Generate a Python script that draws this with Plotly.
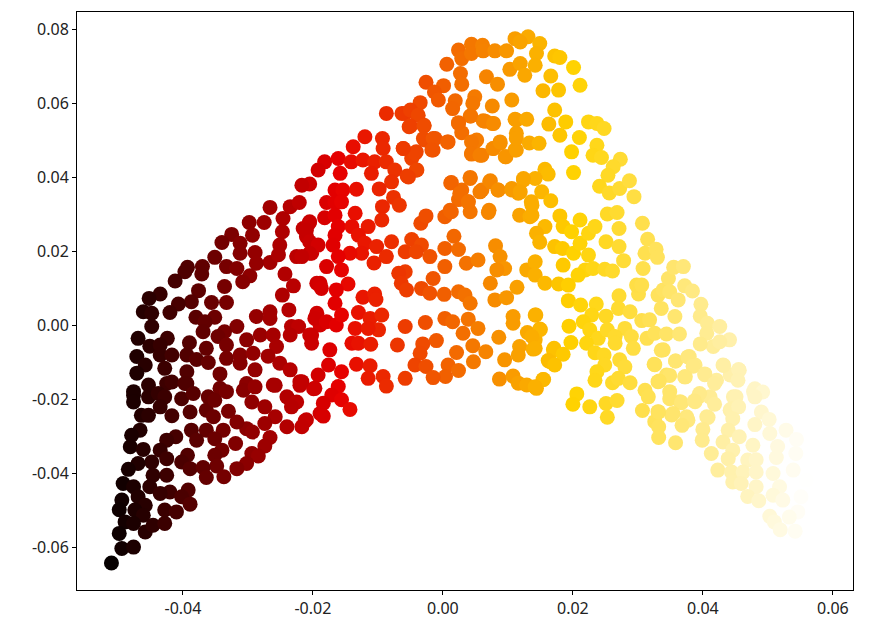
import plotly.graph_objects as go

# Values in thousandths of an axis unit, by region
dark_upper = [(-26.6,31.8),(-23.5,32.0),(-22.1,33.1),(-24.6,28.8),(-29.8,27.7),(-27.5,27.7),(-24.7,25.2),(-29.3,24.3),(-25.1,21.6),(-32.5,24.5),(-34.0,22.3),(-31.2,22.1),(-28.9,19.6),(-35.1,18.3),(-31.2,19.4),(-26.6,16.9),(-28.7,16.7),(-25.3,19.0),(-33.3,15.8),(-31.7,15.3),(-29.7,13.3),(-30.8,11.7),(-39.3,15.6),(-37.0,15.8),(-39.7,14.4),(-37.1,13.8),(-41.2,11.9),(-33.6,10.4),(-37.6,9.3),(-43.5,8.4),(-45.2,7.2),(-38.7,6.3),(-40.7,5.7),(-42.0,3.4),(-46.1,3.6),(-44.8,3.2),(-35.6,6.1),(-33.3,6.1),(-38.0,2.1),(-35.1,2.1),(-36.6,0.9),(-44.8,-0.4),(-36.9,-1.8),(-31.7,-0.4),(-33.6,-1.8),(-34.6,-3.1),(-46.9,-3.6),(-42.4,-3.6),(-45.1,-5.7),(-43.5,-5.4),(-39.0,-4.8),(-36.4,-6.3),(-33.3,-5.4),(-47.1,-8.5),(-43.5,-8.1),(-41.7,-8.1),(-39.4,-8.1),(-37.9,-9.3),(-36.1,-10.1),(-33.3,-9.0),(-31.2,-8.1),(-29.2,-7.6),(-42.8,-11.7),(-45.8,-10.8),(-47.1,-13.0),(-45.3,-16.2),(-39.4,-12.6),(-34.3,-13.2),(-31.2,-10.3),(-28.9,-12.1),(-30.2,-4.0),(-28.1,-2.7),(-26.1,-2.7),(-25.6,-5.8),(-26.9,-8.4),(-25.1,-10.3),(-23.5,-12.1),(-28.7,2.3),(-26.6,3.6),(-26.6,1.8),(-24.3,13.8),(-23.0,10.6),(-24.7,8.1),(-23.7,4.1),(-22.5,18.5),(-20.2,19.4),(-21.0,23.9),(-21.5,26.1),(-20.6,27.5),(-23.3,-0.4),(-22.2,-0.4),(-23.5,-2.7),(-19.4,3.2),(-20.5,-2.7),(-18.9,0.0),(-19.4,11.3),(-22.0,-15.3),(-26.1,-16.2),(-30.2,-15.8),(-34.3,-17.1),(-39.4,-15.8),(-42.5,-15.8),(-47.6,-18.0)]

dark_lower = [(-47.6,-19.0),(-47.6,-20.8),(-45.3,-19.4),(-43.8,-18.5),(-42.8,-19.4),(-43.5,-22.1),(-46.4,-24.4),(-45.3,-24.4),(-41.7,-24.5),(-40.2,-19.9),(-41.7,-15.4),(-39.7,-15.8),(-38.4,-18.5),(-38.9,-23.5),(-36.1,-19.4),(-36.4,-23.0),(-35.1,-20.3),(-35.3,-24.8),(-33.3,-18.0),(-33.0,-23.3),(-29.4,-20.8),(-30.7,-17.6),(-28.9,-16.7),(-27.4,-22.1),(-25.8,-16.3),(-24.0,-19.4),(-22.5,-20.8),(-23.3,-22.1),(-22.0,-16.3),(-19.9,-17.2),(-18.9,-23.9),(-25.8,-24.8),(-27.4,-26.6),(-24.0,-27.5),(-21.2,-25.9),(-30.2,-28.0),(-31.7,-26.2),(-29.3,-28.9),(-26.6,-30.4),(-27.4,-32.7),(-29.4,-34.7),(-28.4,-35.4),(-30.2,-37.4),(-31.7,-38.8),(-33.8,-28.4),(-36.4,-28.4),(-38.7,-28.4),(-35.1,-30.7),(-37.9,-31.1),(-31.9,-32.0),(-34.0,-33.8),(-35.1,-35.2),(-39.3,-35.2),(-40.2,-37.0),(-34.8,-38.1),(-38.9,-38.8),(-36.9,-38.5),(-36.4,-41.2),(-33.7,-41.0),(-41.1,-30.2),(-42.5,-31.1),(-46.6,-28.4),(-47.9,-29.8),(-48.1,-32.9),(-46.1,-33.6),(-43.5,-33.8),(-42.5,-36.1),(-44.8,-37.0),(-46.9,-37.4),(-48.4,-39.0),(-42.5,-40.6),(-44.6,-40.6),(-49.2,-42.8),(-47.6,-43.7),(-45.1,-43.7),(-49.4,-47.3),(-49.8,-49.9),(-46.9,-46.4),(-45.8,-48.7),(-47.4,-50.0),(-46.1,-51.4),(-48.9,-53.2),(-47.6,-53.6),(-49.8,-56.3),(-45.8,-55.9),(-44.6,-54.1),(-42.8,-53.6),(-42.8,-50.0),(-41.0,-50.5),(-42.0,-45.1),(-43.5,-45.5),(-39.2,-44.6),(-40.2,-46.4),(-38.9,-48.4),(-49.4,-60.4),(-47.6,-60.0),(-51.0,-64.3)]

red_upper = [(-8.7,57.2),(-5.8,57.2),(-4.1,57.2),(-2.9,54.0),(-5.2,53.6),(-12.0,50.9),(-13.8,48.2),(-9.3,50.4),(-9.2,47.7),(-6.1,47.7),(-2.8,50.0),(-1.2,50.4),(-1.5,47.3),(-4.1,46.8),(-4.8,45.0),(0.7,49.5),(2.4,54.5),(2.9,52.0),(4.3,56.5),(6.2,55.2),(7.6,54.5),(11.3,55.4),(11.3,51.8),(4.9,49.5),(4.4,46.4),(6.0,45.9),(7.7,47.7),(8.8,49.1),(9.7,45.5),(11.1,47.3),(-18.2,44.1),(-19.2,41.9),(-16.1,45.0),(-14.1,44.1),(-12.3,44.6),(-10.5,44.1),(-8.7,44.1),(-7.4,41.9),(-4.1,41.9),(-5.5,40.3),(-15.8,41.0),(-11.0,41.0),(-7.9,38.7),(-20.5,38.1),(-21.7,37.8),(-16.6,36.5),(-15.4,36.5),(-13.3,36.7),(-9.8,36.8),(-17.9,33.1),(-16.6,33.1),(-15.6,33.3),(-7.6,34.5),(-6.7,32.4),(-9.3,32.0),(-18.2,29.0),(-16.6,29.7),(-13.5,30.2),(-9.4,28.4),(-20.5,27.9),(-21.0,25.7),(-16.1,26.6),(-14.0,26.6),(-11.5,26.6),(-13.0,24.3),(-16.6,24.3),(-16.9,21.6),(-20.5,22.5),(-19.2,21.6),(-20.5,19.4),(-21.7,18.5),(-12.0,22.1),(-12.5,19.4),(-14.3,19.4),(-16.1,18.5),(-17.9,15.8),(-15.6,14.9),(-10.2,21.2),(-10.6,16.8),(-7.9,22.5),(-8.7,18.5),(-5.8,19.8),(-4.8,23.1),(-3.3,21.6),(-4.1,19.8),(-2.0,18.5),(-18.9,11.3),(-18.7,9.9),(-14.6,11.1),(-16.4,9.5),(-16.6,5.9),(-12.3,7.5),(-10.5,8.4),(-10.3,6.9),(-5.8,14.4),(-6.8,14.0),(-6.4,11.3),(-5.6,9.5),(-3.3,9.9),(-2.0,8.6),(0.2,8.3),(-1.5,12.6),(0.3,15.8),(2.4,9.0),(3.4,8.1),(4.2,5.9),(7.3,11.3),(8.0,6.8),(9.8,7.4),(11.4,10.2),(3.6,16.7),(5.4,17.6),(8.1,21.4),(8.8,18.5),(9.5,15.3),(8.3,14.9),(0.3,20.7),(2.4,20.4),(1.7,24.0),(-3.4,27.5),(-2.6,29.5),(0.3,29.3),(1.3,30.6),(7.0,30.4),(4.2,30.6),(3.9,33.3),(2.4,33.9),(2.9,36.5),(1.3,38.5),(4.2,39.6),(6.0,36.5),(7.3,39.0),(8.5,36.5),(10.6,36.9),(11.6,35.6),(12.4,39.2),(11.8,29.7),(13.4,29.3),(12.9,14.9)]

orange_lower = [(-13.0,3.4),(-11.2,1.8),(-9.4,2.7),(-13.5,-0.9),(-9.9,-1.3),(-11.5,-0.9),(-14.0,-4.9),(-13.0,-4.9),(-11.1,-5.2),(-5.8,-0.4),(-7.0,-5.4),(-2.7,0.7),(0.3,1.8),(1.5,0.9),(3.9,1.6),(5.4,-0.9),(3.1,-2.2),(-1.0,-4.2),(-3.1,-5.1),(-3.5,-7.6),(2.1,-7.4),(4.6,-5.6),(6.6,-7.2),(4.7,-9.9),(-4.3,-10.8),(-2.6,-11.2),(0.8,-10.8),(2.4,-12.3),(0.4,-13.9),(-1.5,-14.2),(-5.8,-14.4),(-13.3,-10.6),(-11.2,-11.0),(-11.5,-14.4),(-9.2,-13.9),(-8.7,-16.5),(8.6,-3.3),(9.5,-9.4),(8.7,-14.6),(10.8,2.3),(10.8,0.5),(14.2,2.7),(14.9,-1.1),(13.0,-2.0),(14.2,-4.0),(11.8,-5.8),(13.9,-6.5),(11.6,-8.1),(10.8,-13.8),(11.6,-15.7),(12.9,-16.2),(14.4,-17.1),(15.4,-14.7),(17.0,-6.7),(16.5,-9.9),(-17.4,-6.7),(-20.2,-2.7),(-19.7,1.8),(-17.9,0.9),(-16.4,0.0),(-15.6,2.7),(-20.2,-4.9),(-17.6,-10.8),(-15.6,-12.6),(-19.2,-13.5),(-16.1,-16.6),(-19.7,-17.1),(-21.7,-15.3),(-17.1,-18.9),(-15.6,-20.2),(-14.3,-22.8),(-18.4,-21.1),(-18.4,-24.6),(-21.0,-25.6),(-21.7,-27.5)]

peak = [(0.6,70.5),(2.4,74.3),(2.9,72.0),(4.4,75.9),(4.4,73.4),(6.1,75.6),(6.2,74.1),(8.0,74.1),(9.8,74.1),(11.1,77.4),(13.1,77.9),(11.9,76.5),(14.9,76.1),(14.4,73.4),(14.2,70.2),(17.2,72.7),(18.0,72.3),(20.1,69.6),(21.1,64.8),(10.3,69.1),(11.9,70.7),(12.6,67.5),(6.7,67.1),(8.4,65.1),(2.7,68.0),(2.9,65.1),(-2.6,65.6),(0.1,64.7),(-1.3,63.0),(-0.7,60.8),(-3.5,60.1),(1.9,60.6),(1.5,58.5),(4.9,61.7),(4.6,59.9),(7.6,59.2),(10.6,60.8),(16.6,67.3),(15.4,63.3),(17.8,63.5),(17.2,58.1),(4.2,56.5),(2.4,54.7),(6.5,55.1),(7.8,54.5),(11.1,55.6),(12.9,55.6),(16.3,54.3),(18.9,54.9),(18.0,51.3),(22.4,54.9),(23.7,54.5),(24.8,53.1),(21.0,50.7),(23.7,48.6),(19.8,46.8),(23.1,45.9),(24.4,45.3),(27.3,44.8),(26.2,42.8),(25.4,40.5),(20.1,41.2),(24.1,37.5),(25.6,35.7),(27.2,36.9),(28.7,39.0),(29.4,34.7),(-6.3,57.2),(-5.0,58.1),(-3.8,56.7),(-5.0,53.8),(-2.9,53.8),(-3.0,50.4),(-1.5,50.4),(-1.7,47.3),(0.8,49.5),(-4.3,46.4),(-6.1,47.7),(-4.0,41.9),(-5.3,40.0),(5.2,50.0),(4.4,49.5),(4.4,46.2),(5.7,45.9),(7.8,47.7),(8.8,49.5),(9.6,45.5),(11.3,47.3),(11.3,50.4),(13.3,49.2),(14.8,49.1),(15.7,42.1),(16.2,40.8),(14.2,39.6),(12.4,39.6),(7.2,38.7),(4.2,39.9),(1.2,38.4),(5.7,36.0),(8.5,36.5),(10.6,36.5),(11.9,36.0),(15.2,36.0),(16.6,33.6),(13.6,33.3),(2.6,35.6),(3.9,33.3),(1.1,31.0),(7.1,31.0)]

yellow_mid = [(13.7,32.4),(13.7,29.7),(18.0,29.5),(18.5,26.6),(19.8,25.2),(21.1,28.4),(15.7,26.6),(14.4,24.8),(14.9,22.4),(17.2,21.2),(18.4,20.7),(20.1,19.4),(21.1,22.1),(22.4,24.8),(23.4,26.6),(25.3,30.0),(26.8,30.4),(27.1,26.1),(25.1,22.5),(27.1,21.2),(27.8,17.4),(30.7,27.5),(31.5,23.2),(31.1,19.4),(32.8,20.5),(33.0,18.3),(30.8,15.3),(18.5,16.2),(22.4,18.9),(21.9,14.9),(20.8,13.5),(23.1,15.3),(24.9,15.1),(26.1,14.6),(14.2,17.1),(14.2,13.5),(15.7,11.3),(17.8,11.1),(19.3,10.8),(19.3,6.6),(21.2,5.4),(23.6,5.7),(22.9,2.7),(25.1,2.4),(21.6,0.9),(14.3,2.7),(19.4,-0.3),(15.0,-1.2),(19.7,-4.7),(22.6,-1.3),(23.9,-3.6),(22.1,-4.9),(13.7,-3.1),(14.2,-6.3),(17.1,-6.3),(18.5,-7.9),(16.2,-9.6),(17.2,-10.8),(23.4,-7.5),(24.8,-8.1),(27.1,7.9),(27.0,4.5),(28.8,3.6),(30.1,8.4),(29.8,10.8),(30.6,10.8),(30.6,1.2),(31.8,1.4),(25.3,-1.3),(28.0,-0.9),(29.0,-3.1),(26.5,-3.1),(26.5,-4.9),(29.3,-6.3),(31.4,-3.6),(32.6,-2.2),(34.4,-2.4),(36.4,-2.4),(35.7,2.3),(33.9,-6.7),(33.6,4.5),(33.1,8.1),(33.9,9.5),(34.7,12.6),(35.5,15.6),(37.0,15.8),(34.9,9.0),(36.2,6.8),(37.2,10.6),(38.4,9.2),(39.7,5.6),(39.6,2.4),(40.7,0.5),(40.6,-2.2),(42.6,-0.4),(44.1,-4.0),(41.6,-5.8),(39.6,-5.1),(42.6,-4.5),(32.5,-10.6),(35.8,-9.7),(37.9,-8.5),(37.2,-14.0),(38.8,-10.8),(43.1,-10.8),(45.6,-12.2),(40.3,-13.2),(42.1,-14.9),(44.2,-13.5),(34.4,-13.5),(33.1,-15.3),(31.1,-17.6),(31.6,-19.4),(34.9,-18.0),(36.5,-20.7),(39.3,-19.4),(38.8,-20.7),(41.1,-19.4),(47.8,-18.0),(44.7,-19.4),(30.7,-23.1),(33.1,-23.4),(32.6,-26.1),(35.2,-24.3),(37.5,-24.8),(40.6,-24.8),(44.2,-23.0),(24.9,-10.8),(27.2,-9.4),(28.0,-11.3),(23.7,-12.6),(23.4,-14.9),(26.1,-15.6),(27.0,-14.4),(28.8,-15.6),(20.6,-18.6),(20.0,-21.4),(22.6,-22.1),(25.1,-21.2),(26.8,-20.4),(25.3,-24.9),(15.5,-14.7),(14.2,-16.7)]

pale_tail = [(33.6,-6.8),(32.6,-10.7),(35.8,-9.7),(37.7,-8.6),(38.5,-11.1),(37.3,-14.0),(34.9,-13.6),(33.3,-15.1),(34.9,-19.9),(36.7,-21.0),(35.4,-23.9),(37.7,-25.7),(36.8,-27.1),(33.2,-23.5),(33.2,-27.5),(33.2,-30.4),(35.8,-31.8),(40.3,-13.4),(39.5,-18.5),(38.7,-20.5),(41.8,-21.4),(40.8,-25.0),(40.0,-28.2),(39.9,-31.1),(41.3,-34.7),(42.3,-39.2),(43.2,-10.9),(41.8,-15.8),(45.5,-12.0),(45.4,-14.9),(48.0,-17.2),(49.2,-18.1),(48.0,-19.4),(45.1,-19.4),(44.4,-22.6),(45.5,-22.1),(44.6,-25.3),(49.0,-23.5),(48.0,-26.9),(50.2,-25.5),(50.3,-29.3),(52.8,-28.4),(54.4,-30.9),(51.5,-32.8),(54.3,-34.7),(51.3,-35.8),(56.7,-37.9),(53.9,-39.2),(43.9,-28.4),(45.6,-30.2),(43.1,-31.6),(47.7,-32.5),(44.6,-33.8),(46.9,-36.5),(48.2,-36.4),(43.9,-36.1),(44.4,-39.7),(46.2,-39.7),(48.2,-39.7),(50.8,-40.1),(44.6,-42.4),(45.9,-42.8),(48.2,-43.7),(46.9,-46.3),(48.6,-47.5),(51.8,-43.7),(50.8,-46.0),(52.3,-47.3),(55.1,-46.4),(54.6,-50.5),(50.3,-51.7),(51.0,-53.2),(51.9,-55.3),(54.2,-55.7),(53.3,-51.9),(55.9,-41.9)]

x_ticks = [-0.04, -0.02, 0.00, 0.02, 0.04, 0.06]
y_ticks = [-0.06, -0.04, -0.02, 0.00, 0.02, 0.04, 0.06, 0.08]

points = dark_upper + dark_lower + red_upper + orange_lower + peak + yellow_mid + pale_tail
xs = [p[0] / 1000 for p in points]
ys = [p[1] / 1000 for p in points]

fig = go.Figure(go.Scatter(
    x=xs, y=ys, mode="markers",
    marker=dict(size=15, color=xs, colorscale="Hot", cmin=-0.052, cmax=0.056,
                line=dict(width=0), opacity=1),
    showlegend=False,
))
axis = dict(showgrid=False, zeroline=False, showline=True, linecolor="black", linewidth=1,
            mirror=True, ticks="outside", ticklen=4, tickcolor="black",
            tickfont=dict(family="Noto Sans", size=16, color="#222222"))
fig.update_xaxes(range=[-0.0563, 0.0631], tickvals=x_ticks,
                 ticktext=[f"{v:.2f}".replace("-0.00", "0.00") for v in x_ticks], **axis)
fig.update_yaxes(range=[-0.0716, 0.0846], tickvals=y_ticks,
                 ticktext=[f"{v:.2f}" for v in y_ticks], **axis)
fig.update_layout(width=859, height=628, paper_bgcolor="white", plot_bgcolor="white",
                  margin=dict(l=69, r=14, t=4, b=46, autoexpand=False))
fig.write_html("out.html")
